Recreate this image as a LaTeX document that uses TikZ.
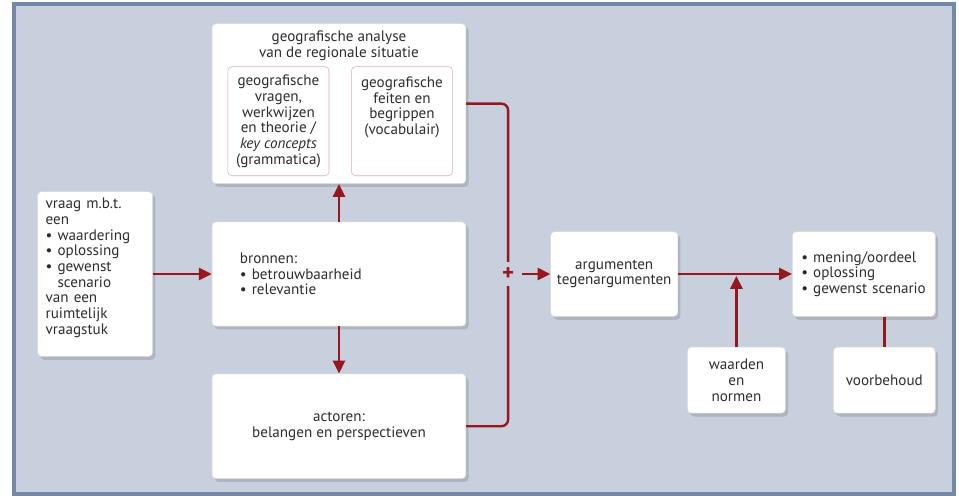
\documentclass[tikz,border=0pt]{standalone}
\usepackage{fontspec}
\setmainfont{PT Sans}
\usetikzlibrary{arrows.meta, positioning, shadows}
\definecolor{linkred}{RGB}{150, 24, 30}
\definecolor{panelblue}{RGB}{200, 207, 221}
\definecolor{frameblue}{RGB}{118, 136, 170}
\definecolor{textgray}{RGB}{45, 45, 45}
\definecolor{innerrose}{RGB}{215, 175, 175}

\begin{document}
\begin{tikzpicture}[
    x=0.0265cm, y=-0.0265cm,
    font=\fontsize{11.4}{11.8}\selectfont, text=textgray,
    box/.style={rectangle, draw=black!15, fill=white, rounded corners=3pt, align=center, inner sep=0pt,
        drop shadow={shadow xshift=2pt, shadow yshift=-2.5pt, opacity=0.25, fill=black!60}},
    subbox/.style={rectangle, draw=innerrose, fill=white, rounded corners=3pt, align=center, inner sep=0pt, minimum width=2.68cm, minimum height=2.89cm},
    link/.style={linkred, line width=1.8pt},
    arrow/.style={link, -{Triangle[length=3.4mm, width=3.2mm]}}
]

% kader
\useasboundingbox (0,0) rectangle (959,497);
\draw[frameblue, line width=2.5pt, fill=panelblue] (14,4) rectangle (954,494);

% Middenkolom: bronnen, analyse, actoren
\node[box, minimum width=6.73cm, minimum height=2.76cm, text width=5.25cm, align=left] (bronnen) at (339,274) {bronnen:\\\textbullet\ betrouwbaarheid\\\textbullet\ relevantie};

\node[box, minimum width=6.73cm, minimum height=4.24cm, above=1cm of bronnen] (analyse) {};
\node[inner sep=0pt, align=center, below=0.2cm of analyse.north] (titel) {geografische analyse\\van de regionale situatie};
\node[subbox, below right=1.14cm and 0.42cm of analyse.north west] (vragen) {geografische\\vragen,\\werkwijzen\\en theorie /\\\textit{key concepts}\\(grammatica)};
\node[subbox, right=0.58cm of vragen] (feiten) {geografische\\feiten en\\begrippen\\(vocabulair)\\\mbox{}\\\mbox{}};

\node[box, minimum width=6.73cm, minimum height=2.78cm, below=1.25cm of bronnen] (actoren) {actoren:\\belangen en perspectieven};

% Links: de vraag
\node[box, minimum width=3.05cm, minimum height=4.37cm, text width=2.62cm, align=left, left=1.56cm of bronnen] (vraag) {vraag m.b.t.\\een\\\textbullet\ waardering\\\textbullet\ oplossing\\\textbullet\ gewenst\\\phantom{\textbullet\ }scenario\\van een\\ruimtelijk\\vraagstuk\\\mbox{}};

% Rechts: argumenten en oordeel
\node[box, minimum width=3.37cm, minimum height=2.25cm, right=2.23cm of bronnen] (argumenten) {argumenten\\tegenargumenten};
\node[box, minimum width=3.79cm, minimum height=2.25cm, text width=3.31cm, align=left, right=3.02cm of argumenten] (mening) {\textbullet\ mening/oordeel\\\textbullet\ oplossing\\\textbullet\ gewenst scenario};
\node[box, minimum width=2.6cm, minimum height=1.75cm, below right=0.8cm and 0.24cm of argumenten] (waarden) {waarden\\en\\normen};
\node[box, minimum width=2.7cm, minimum height=1.75cm, below left=0.8cm and 0cm of mening.south east] (voorbehoud) {voorbehoud};

% Pijlen middenkolom
\draw[arrow] (vraag) -- (bronnen);
\draw[arrow] (bronnen) -- (analyse);
\draw[arrow] (bronnen) -- (actoren);

% Verzamellijn met plusteken
\coordinate[right=1.11cm of bronnen.east] (knoop);
\draw[link, rounded corners=5pt] (analyse.east) -| (knoop) |- (actoren.east);
\node[fill=panelblue, inner sep=0pt, minimum width=0.42cm, minimum height=0.66cm, text=linkred, font=\LARGE\bfseries] (plus) at (knoop) {+};
\draw[arrow, shorten <=0.16cm] (plus) -- (plus -| argumenten.west);

% Pijlen rechts
\draw[arrow] (argumenten) -- (mening);
\draw[arrow, shorten >=1.5pt] (waarden) -- (waarden.north |- argumenten.east);
\draw[link] (voorbehoud.north) -- (voorbehoud.north |- mening.south);

\end{tikzpicture}
\end{document}
